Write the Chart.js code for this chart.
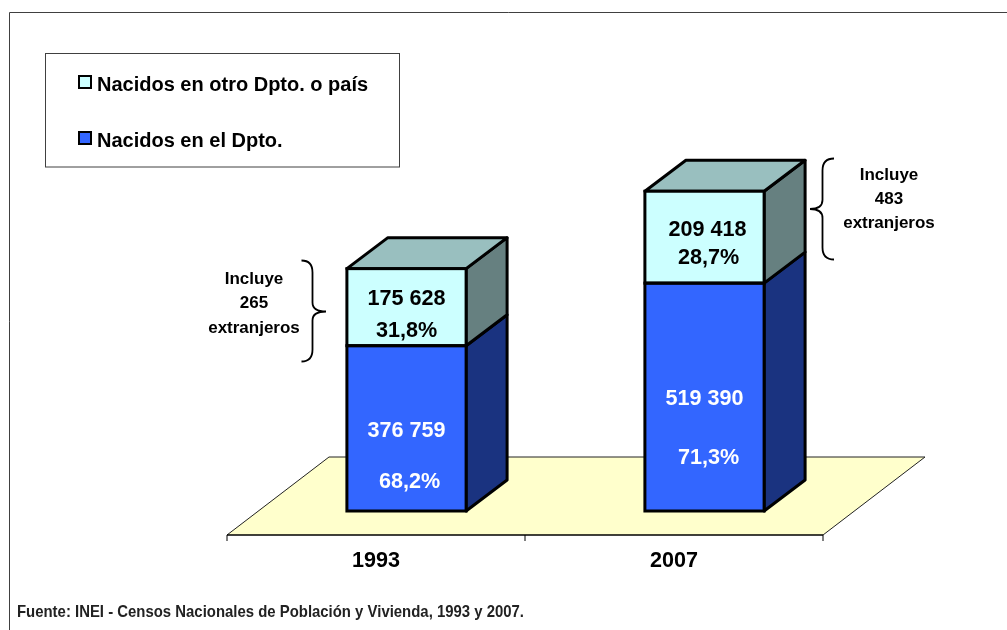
<!DOCTYPE html>
<html lang="es">
<head>
<meta charset="utf-8">
<style>html,body{margin:0;padding:0;background:#fff}canvas{display:block}</style>
<script src="https://cdn.jsdelivr.net/npm/chart.js@4/dist/chart.umd.min.js"></script>
</head>
<body>
<canvas id="c" width="1007" height="630"></canvas>
<script>
const categories = ['1993', '2007'];
const bornElsewhere = [175628, 209418];
const bornHere = [376759, 519390];
const elsewhereLabels = [['175 628', '31,8%'], ['209 418', '28,7%']];
const hereLabels = [['376 759', '68,2%'], ['519 390', '71,3%']];
const noteLines = [['Incluye', '265', 'extranjeros'], ['Incluye', '483', 'extranjeros']];
const seriesNames = ['Nacidos en el Dpto.', 'Nacidos en otro Dpto. o país'];
const sourceText = 'Fuente: INEI - Censos Nacionales de Población y Vivienda, 1993 y 2007.';

const FONT = '"Liberation Sans", Arial, sans-serif';
const BLUE = '#3366FF', CYAN = '#CCFFFF', BLUE_SIDE = '#1A3380', CYAN_SIDE = '#668080', CYAN_TOP = '#99BFBF', FLOOR = '#FFFFCC';
const DEPTH_X = 41, DEPTH_Y = 31;

function poly(ctx, pts, fill, stroke, lw) {
  ctx.beginPath();
  pts.forEach((p, i) => i ? ctx.lineTo(p[0], p[1]) : ctx.moveTo(p[0], p[1]));
  ctx.closePath();
  if (fill) { ctx.fillStyle = fill; ctx.fill(); }
  if (stroke) { ctx.strokeStyle = stroke; ctx.lineWidth = lw; ctx.stroke(); }
}
function brace(ctx, tipX, spineX, endX, top, mid, bottom) {
  ctx.beginPath();
  ctx.moveTo(endX, top);
  ctx.quadraticCurveTo(spineX, top, spineX, top + 12);
  ctx.lineTo(spineX, mid - 9);
  ctx.quadraticCurveTo(spineX, mid, tipX, mid);
  ctx.quadraticCurveTo(spineX, mid, spineX, mid + 9);
  ctx.lineTo(spineX, bottom - 12);
  ctx.quadraticCurveTo(spineX, bottom, endX, bottom);
  ctx.strokeStyle = '#000';
  ctx.lineWidth = 1.8;
  ctx.stroke();
}

const scene = {
  id: 'scene',
  beforeDraw(chart) {
    const { ctx, scales: { x, y } } = chart;
    ctx.save();
    ctx.fillStyle = '#fff';
    ctx.fillRect(0, 0, chart.width, chart.height);

    // outer frame
    ctx.strokeStyle = '#404040';
    ctx.lineWidth = 1;
    ctx.beginPath();
    ctx.moveTo(9.5, 630); ctx.lineTo(9.5, 12.5); ctx.lineTo(1007, 12.5);
    ctx.stroke();

    // floor and axis
    const fl = x.left - 30.5, fr = x.right - 30.5, fy = y.bottom + 24;
    poly(ctx, [[fl, fy], [fr, fy], [fr + 102, fy - 78], [fl + 102, fy - 78]], FLOOR, null);
    ctx.strokeStyle = '#222';
    ctx.lineWidth = 1;
    ctx.beginPath();
    ctx.moveTo(fl, fy); ctx.lineTo(fl + 102, fy - 78); ctx.lineTo(fr + 102, fy - 78); ctx.lineTo(fr, fy);
    ctx.stroke();
    ctx.strokeStyle = '#000';
    ctx.lineWidth = 1.4;
    ctx.beginPath();
    ctx.moveTo(fl, fy); ctx.lineTo(fr, fy);
    ctx.stroke();
    ctx.lineWidth = 1;
    ctx.beginPath();
    [fl, (fl + fr) / 2, fr].forEach(px => { ctx.moveTo(px, fy); ctx.lineTo(px, fy + 6); });
    ctx.stroke();

    // legend
    ctx.strokeStyle = '#404040';
    ctx.lineWidth = 1;
    ctx.fillStyle = '#fff';
    ctx.fillRect(45.5, 53.5, 354, 113.5);
    ctx.strokeRect(45.5, 53.5, 354, 113.5);
    const rows = [[seriesNames[1], CYAN, 82], [seriesNames[0], BLUE, 138]];
    rows.forEach(([name, col, cy]) => {
      ctx.fillStyle = col;
      ctx.strokeStyle = '#000';
      ctx.lineWidth = 2;
      ctx.fillRect(79, cy - 6, 12, 12);
      ctx.strokeRect(79, cy - 6, 12, 12);
      ctx.fillStyle = '#000';
      ctx.font = 'bold 20px ' + FONT;
      ctx.textAlign = 'left';
      ctx.textBaseline = 'middle';
      ctx.fillText(name, 97, cy + 3);
    });

    // source (condensed horizontally)
    ctx.save();
    ctx.fillStyle = '#222';
    ctx.font = 'bold 17px ' + FONT;
    ctx.textAlign = 'left';
    ctx.textBaseline = 'middle';
    ctx.translate(17, 612);
    ctx.scale(507 / ctx.measureText(sourceText).width, 1);
    ctx.fillText(sourceText, 0, 0);
    ctx.restore();

    // notes and braces
    ctx.fillStyle = '#000';
    ctx.font = 'bold 17px ' + FONT;
    ctx.textAlign = 'center';
    ctx.textBaseline = 'middle';
    noteLines[0].forEach((t, i) => ctx.fillText(t, 254, 279 + i * 24.5));
    noteLines[1].forEach((t, i) => ctx.fillText(t, 889, 175 + i * 24));
    brace(ctx, 326, 312.5, 301.5, 260.5, 311.5, 361.5);
    brace(ctx, 810, 822.5, 834, 158.5, 209, 259.5);
    ctx.restore();
  },
  beforeDatasetsDraw(chart) {
    const { ctx } = chart;
    const lower = chart.getDatasetMeta(0).data;
    const upper = chart.getDatasetMeta(1).data;
    ctx.save();
    ctx.lineJoin = 'round';
    lower.forEach((b, i) => {
      const u = upper[i];
      const r = b.x + b.width / 2, l = b.x - b.width / 2;
      poly(ctx, [[r, b.base], [r + DEPTH_X, b.base - DEPTH_Y], [r + DEPTH_X, b.y - DEPTH_Y], [r, b.y]], BLUE_SIDE, '#000', 3);
      poly(ctx, [[r, b.y], [r + DEPTH_X, b.y - DEPTH_Y], [r + DEPTH_X, u.y - DEPTH_Y], [r, u.y]], CYAN_SIDE, '#000', 3);
      poly(ctx, [[l, u.y], [l + DEPTH_X, u.y - DEPTH_Y], [r + DEPTH_X, u.y - DEPTH_Y], [r, u.y]], CYAN_TOP, '#000', 3);
    });
    ctx.restore();
  },
  afterDatasetsDraw(chart) {
    const { ctx } = chart;
    const lower = chart.getDatasetMeta(0).data;
    const upper = chart.getDatasetMeta(1).data;
    ctx.save();
    ctx.strokeStyle = '#000';
    ctx.lineWidth = 3;
    lower.forEach((b, i) => {
      const u = upper[i];
      const l = b.x - b.width / 2;
      ctx.strokeRect(l, b.y, b.width, b.base - b.y);
      ctx.strokeRect(l, u.y, b.width, b.y - u.y);
    });
    // value labels
    ctx.font = 'bold 21.6px ' + FONT;
    ctx.textAlign = 'center';
    ctx.textBaseline = 'middle';
    const hereOffsets = [[[0, 0.515], [3, 0.822]], [[0, 0.508], [4, 0.768]]];
    const elseOffsets = [[[0, 0.39], [0, 0.815]], [[3, 0.42], [4, 0.73]]];
    lower.forEach((b, i) => {
      const u = upper[i];
      ctx.fillStyle = '#fff';
      hereLabels[i].forEach((t, k) => {
        const [dx, f] = hereOffsets[i][k];
        ctx.fillText(t, b.x + dx, b.y + (b.base - b.y) * f);
      });
      ctx.fillStyle = '#000';
      elsewhereLabels[i].forEach((t, k) => {
        const [dx, f] = elseOffsets[i][k];
        ctx.fillText(t, u.x + dx, u.y + (b.y - u.y) * f);
      });
    });
    ctx.restore();
  }
};

new Chart(document.getElementById('c'), {
  type: 'bar',
  data: {
    labels: categories,
    datasets: [
      { label: seriesNames[0], data: bornHere, backgroundColor: BLUE, borderWidth: 0 },
      { label: seriesNames[1], data: bornElsewhere, backgroundColor: CYAN, borderWidth: 0 }
    ]
  },
  options: {
    responsive: false,
    animation: false,
    layout: { padding: { left: 257.5, right: 153.5, top: 160, bottom: 0 } },
    datasets: { bar: { categoryPercentage: 0.8, barPercentage: 0.5 } },
    plugins: { legend: { display: false }, tooltip: { enabled: false }, title: { display: false } },
    scales: {
      x: {
        stacked: true,
        border: { display: false },
        grid: { display: false, drawTicks: false },
        ticks: {
          color: '#000',
          font: { family: FONT, size: 21.6, weight: 'bold' },
          padding: 37,
          labelOffset: -30.5,
          maxRotation: 0
        },
        afterFit(s) { s.height = 119; }
      },
      y: { stacked: true, display: false, min: 0, max: 800000 }
    }
  },
  plugins: [scene]
});
</script>
</body>
</html>
